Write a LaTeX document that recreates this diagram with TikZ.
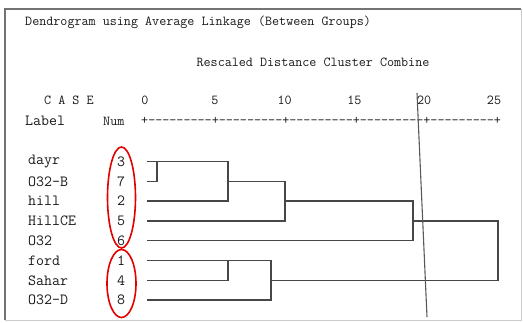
\documentclass[tikz,border=0pt]{standalone}
\usepackage{fontspec}
\usetikzlibrary{positioning}

\tikzset{
  txt/.style={inner sep=0pt, text=black!90, font=\ttfamily\fontsize{13.7}{14}\selectfont},
  case/.style={txt, font=\ttfamily\fontsize{15.5}{16}\selectfont},
  link/.style={draw=black!72, line width=1.5pt},
  cut/.style={draw=black!65, line width=1.1pt},
  ring/.style={draw=red!90!black, line width=1.6pt},
}

\begin{document}
\begin{tikzpicture}[x=1pt,y=-1pt]
\useasboundingbox (0,0) rectangle (523,322);

% frame
\draw[black!20, line width=0.8pt] (5,9) rectangle (521,320);
\draw[black!55, line width=1.6pt] (5,320) -- (5,9) -- (521,9);

% headings
\node[txt, anchor=west] (title) at (25,22) {Dendrogram using Average Linkage (Between Groups)};
\node[txt] (rescaled) at (313,62) {Rescaled Distance Cluster Combine};
\node[txt, anchor=west] (casehead) at (44,100) {C A S E};
\node[case, anchor=west] (labelhead) at (25,121) {Label};
\node[txt, anchor=west] (numhead) at (103,121) {Num};

% axis
\node[txt, anchor=west] (axis) at (141,121) {+---------+---------+---------+---------+---------+};
\foreach \v [count=\i from 0] in {0,5,...,25}
  \node[txt] (tick\v) at ({145+69.8*\i},100) {\v};

% cases
\foreach \lbl/\n [count=\i from 0] in {dayr/3,O32-B/7,hill/2,HillCE/5,O32/6,ford/1,Sahar/4,O32-D/8} {
  \node[case, anchor=west] (lab\n) at (28,{161.5+19.8*\i}) {\lbl};
  \node[case] (num\n) at (121,{161.5+19.8*\i}) {\n};
  \coordinate (s\n) at (147,{161.5+19.8*\i});
}

% merge levels
\coordinate (m37) at (157,0);
\coordinate (m372) at (228,0);
\coordinate (m3725) at (285,0);
\coordinate (m37256) at (413,0);
\coordinate (m14) at (228,0);
\coordinate (m148) at (271,0);
\coordinate (mall) at (498,0);

% dendrogram
\draw[link] (s3) -- (m372 |- s3) -- (m372 |- s2) -- (s2);
\draw[link] (s7) -- (m37 |- s7) -- (m37 |- s3);
\draw[link] (m372 |- s7) -- (m3725 |- s7) -- (m3725 |- s5) -- (s5);
\draw[link] (m3725 |- s2) -- (m37256 |- s2) -- (m37256 |- s6) -- (s6);
\draw[link] (s1) -- (m148 |- s1) -- (m148 |- s8) -- (s8);
\draw[link] (s4) -- (m14 |- s4) -- (m14 |- s1);
\draw[link] (m37256 |- s5) -- (mall |- s5) -- (mall |- s4) -- (m148 |- s4);

% cut line
\coordinate (cuttop) at (417,93);
\coordinate (cutbot) at (427,317);
\draw[cut] (cuttop) -- (cutbot);

% groups
\draw[ring] (121.5,197.5) ellipse [x radius=14, y radius=50.5];
\draw[ring] (121.5,283.5) ellipse [x radius=14.5, y radius=34];
\end{tikzpicture}
\end{document}
